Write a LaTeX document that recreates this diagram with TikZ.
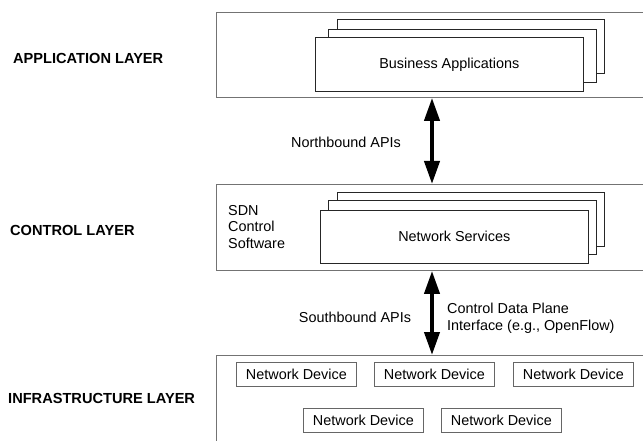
\documentclass[tikz,border=0pt]{standalone}
\usepackage{fontspec}
\setmainfont{Liberation Sans}
\usetikzlibrary{arrows.meta,positioning}
\tikzset{
  layerbox/.style={draw=black!55, line width=0.9pt, anchor=north west, inner sep=0pt},
  stackbox/.style={draw=black!85, line width=0.7pt, fill=white, anchor=north west, inner sep=0pt},
  devbox/.style={draw=black!60, line width=0.8pt, fill=white, anchor=north west, inner sep=0pt,
    minimum width=120pt, minimum height=24pt, font=\fontsize{14.4}{17}\selectfont},
  lyrlabel/.style={anchor=west, inner sep=0pt, font=\fontsize{14.6}{17}\selectfont\bfseries},
  txt/.style={inner sep=0pt, font=\fontsize{14.4}{16.5}\selectfont, align=left},
  bigarrow/.style={line width=4pt, {Triangle[length=23pt,width=15pt]}-{Triangle[length=23pt,width=15pt]}}
}
\begin{document}
\begin{tikzpicture}[x=1pt,y=-1pt]
\useasboundingbox (0,0) rectangle (643,441);
% layer boxes (open on the right / bottom edge of the picture)
\node[layerbox, minimum width=500pt, minimum height=85pt] (app) at (216,12) {};
\node[layerbox, minimum width=500pt, minimum height=86pt] (ctrl) at (216,184) {};
\node[layerbox, minimum width=500pt, minimum height=120pt] (infra) at (216,355) {};
% layer labels
\node[lyrlabel] (lapp) at (13,58) {APPLICATION LAYER};
\node[lyrlabel] (lctrl) at (10,230) {CONTROL LAYER};
\node[lyrlabel] (linfra) at (8,398) {INFRASTRUCTURE LAYER};
% application stack
\node[stackbox, minimum width=267pt, minimum height=54pt] (ba3) at (337,19) {};
\node[stackbox, minimum width=268pt, minimum height=53pt] (ba2) at (328,29) {};
\node[stackbox, minimum width=268pt, minimum height=54pt, font=\fontsize{14.4}{17}\selectfont] (ba) at (315,37) {Business Applications};
% control stack
\node[stackbox, minimum width=267pt, minimum height=54pt] (ns3) at (337,192) {};
\node[stackbox, minimum width=268pt, minimum height=54pt] (ns2) at (328,200) {};
\node[stackbox, minimum width=268pt, minimum height=53pt, font=\fontsize{14.4}{17}\selectfont] (ns) at (320,210) {Network Services};
\node[txt, anchor=west] (sdn) at (228,227) {SDN\\Control\\Software};
% network devices
\node[devbox] (d1) at (236,362) {Network Device};
\node[devbox] (d2) at (374,362) {Network Device};
\node[devbox] (d3) at (513,362) {Network Device};
\node[devbox] (d4) at (303,408) {Network Device};
\node[devbox] (d5) at (441,408) {Network Device};
% arrows
\coordinate (ax) at (432,0);
\draw[bigarrow] (app.south -| ax) -- (ctrl.north -| ax);
\draw[bigarrow] (ctrl.south -| ax) -- (infra.north -| ax);
% arrow labels
\node[txt] (nb) at (346,142) {Northbound APIs};
\node[txt] (sb) at (355,317) {Southbound APIs};
\node[txt, anchor=west] (cdp) at (447,318.5) {Control Data Plane\\Interface (e.g., OpenFlow)};
\end{tikzpicture}
\end{document}
